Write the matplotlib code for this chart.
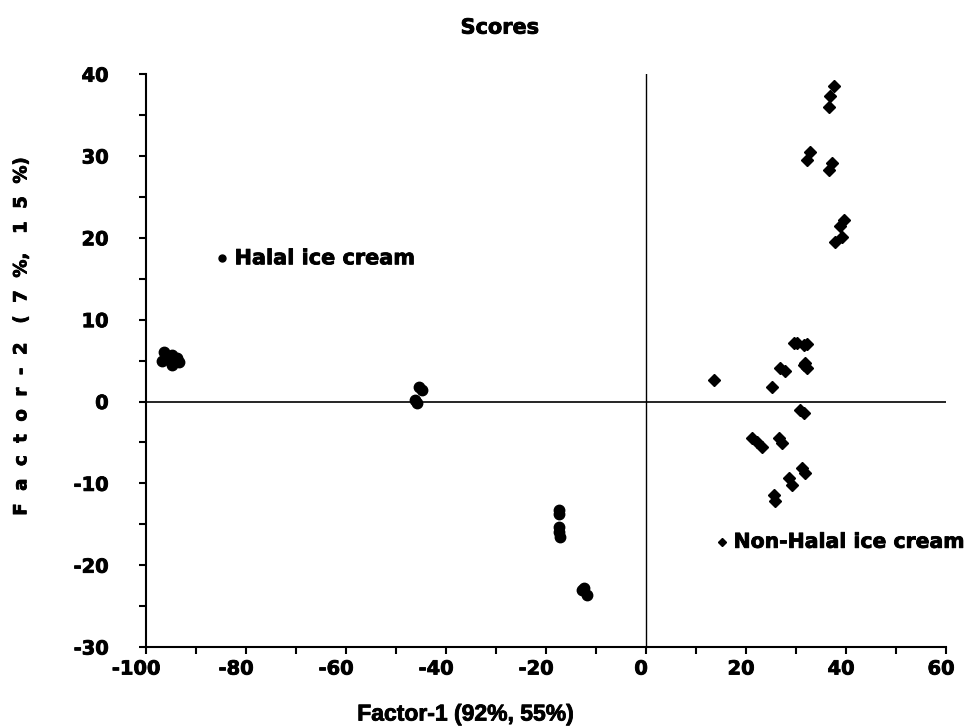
import matplotlib.pyplot as plt
import matplotlib.patheffects as pe
import matplotlib.transforms as mtransforms
from matplotlib.ticker import MultipleLocator, FuncFormatter

plt.rcParams['font.family'] = ['DejaVu Sans']
plt.rcParams['font.weight'] = 'bold'
plt.rcParams['axes.unicode_minus'] = False

# Halal ice cream scores (circles)
halal_x = [-96.5, -96.9, -94.9, -94.9, -93.9, -93.5, -95.8,
           -45.5, -44.9, -46.2, -45.9,
           -17.5, -17.5, -17.4, -17.4, -17.3,
           -12.5, -11.9, -12.9]
halal_y = [6.1, 4.9, 5.7, 4.5, 5.3, 4.8, 5.2,
           1.8, 1.4, 0.2, -0.2,
           -13.2, -13.8, -15.3, -15.9, -16.5,
           -22.8, -23.6, -23.0]

# Non-Halal ice cream scores (diamonds)
nonhalal_x = [37.5, 36.8, 36.5, 32.8, 32.1, 37.1, 36.5, 39.5, 38.8, 39.1, 37.8,
              13.5, 25.1, 26.8, 27.8, 29.5, 30.1, 31.5, 32.1, 31.8, 32.1, 31.5,
              30.8, 31.5, 21.1, 22.1, 23.1, 26.5, 27.1, 31.1, 31.8, 28.5, 29.1,
              25.5, 25.8]
nonhalal_y = [38.5, 37.3, 36.0, 30.5, 29.5, 29.1, 28.3, 22.2, 21.4, 20.1, 19.5,
              2.6, 1.8, 4.1, 3.7, 7.1, 7.1, 6.9, 7.0, 4.7, 4.1, 4.5,
              -1.0, -1.4, -4.5, -4.9, -5.5, -4.5, -5.1, -8.1, -8.7, -9.4, -10.2,
              -11.4, -12.2]

heavy = [pe.withStroke(linewidth=0.6, foreground='black')]

fig = plt.figure(figsize=(9.69, 7.27), dpi=100)
ax = fig.add_axes([0.1507, 0.110, 0.8256, 0.788])

ax.plot(halal_x, halal_y, 'o', color='black', markersize=7.5, linestyle='none')
ax.plot(nonhalal_x, nonhalal_y, 'D', color='black', markersize=6, linestyle='none')

ax.axhline(0, color='black', linewidth=1.2)
ax.axvline(0, color='black', linewidth=1.0)

ax.set_xlim(-100, 60)
ax.set_ylim(-30, 40)
ax.xaxis.set_major_locator(MultipleLocator(20))
ax.xaxis.set_minor_locator(MultipleLocator(10))
ax.yaxis.set_major_locator(MultipleLocator(10))
ax.yaxis.set_minor_locator(MultipleLocator(5))
fmt = FuncFormatter(lambda v, p: '%d' % round(v))
ax.xaxis.set_major_formatter(fmt)
ax.yaxis.set_major_formatter(fmt)

for s in ['top', 'right']:
    ax.spines[s].set_visible(False)
for s in ['left', 'bottom']:
    ax.spines[s].set_linewidth(1.5)

ax.tick_params(which='both', direction='out', width=1.5, length=5)
ax.tick_params(axis='x', which='major', pad=4, labelsize=14)
ax.tick_params(axis='y', which='major', pad=22, labelsize=14)
fig.canvas.draw()
for lab in ax.get_xticklabels():
    shift = -10 if lab.get_text().startswith('-') else -5
    lab.set_transform(lab.get_transform() +
                      mtransforms.ScaledTranslation(shift / 100, 0, fig.dpi_scale_trans))
for lab in ax.get_xticklabels() + ax.get_yticklabels():
    lab.set_fontweight('bold')
    lab.set_path_effects(heavy)

# in-plot labels
ax.plot([-84.8], [17.5], 'o', color='black', markersize=5)
ax.text(-82.3, 17.5, 'Halal ice cream', fontsize=15, fontweight='bold', va='center',
        path_effects=heavy)
ax.plot([15.2], [-17.2], 'D', color='black', markersize=4)
ax.text(17.5, -17.2, 'Non-Halal ice cream', fontsize=14.7, fontweight='bold', va='center',
        path_effects=heavy)

fig.text(0.516, 0.962, 'Scores', fontsize=15, fontweight='bold', ha='center', va='center',
         path_effects=heavy)
fig.text(0.48, 0.002, 'Factor-1 (92%, 55%)', fontsize=16.5, fontweight='bold',
         family='Liberation Sans', ha='center', va='bottom', path_effects=heavy)
fig.text(0.022, 0.536, 'F  a  c  t  o  r  -  2   (  7  %,   1  5  %)', fontsize=13,
         fontweight='bold', rotation=90, ha='center', va='center', path_effects=heavy)

fig.savefig('out.png', dpi=100)
